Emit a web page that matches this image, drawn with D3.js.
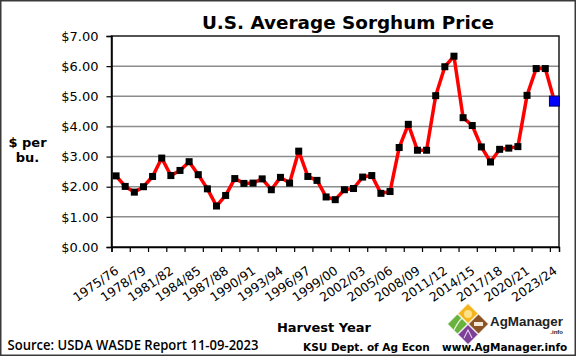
<!DOCTYPE html>
<html><head><meta charset="utf-8">
<script src="https://cdn.jsdelivr.net/npm/d3@7"></script>
<style>html,body{margin:0;padding:0;background:#fff;}svg{display:block;}</style>
</head><body>
<svg id="chart" width="576" height="356"></svg>
<script>
const categories = ["1975/76","1976/77","1977/78","1978/79","1979/80","1980/81","1981/82","1982/83","1983/84","1984/85",
"1985/86","1986/87","1987/88","1988/89","1989/90","1990/91","1991/92","1992/93","1993/94","1994/95",
"1995/96","1996/97","1997/98","1998/99","1999/00","2000/01","2001/02","2002/03","2003/04","2004/05",
"2005/06","2006/07","2007/08","2008/09","2009/10","2010/11","2011/12","2012/13","2013/14","2014/15",
"2015/16","2016/17","2017/18","2018/19","2019/20","2020/21","2021/22","2022/23","2023/24"];
const prices = [2.36,2.01,1.82,2.00,2.34,2.95,2.37,2.54,2.83,2.40,
1.93,1.36,1.71,2.27,2.11,2.12,2.26,1.90,2.31,2.12,
3.18,2.34,2.21,1.66,1.57,1.90,1.94,2.32,2.37,1.78,
1.84,3.30,4.07,3.21,3.21,5.02,5.98,6.33,4.29,4.03,
3.32,2.82,3.24,3.28,3.33,5.03,5.92,5.92,4.84];
const xTickLabels = ["1975/76","1978/79","1981/82","1984/85","1987/88","1990/91","1993/94","1996/97","1999/00",
"2002/03","2005/06","2008/09","2011/12","2014/15","2017/18","2020/21","2023/24"];
const yTicks = [0,1,2,3,4,5,6,7];

const svg = d3.select("#chart");
const L = 111.5, R = 559, T = 36, B = 247;

const x = d3.scaleBand().domain(categories).range([L, R]).padding(0);
const xIdx = d3.scaleLinear().domain([0, categories.length]).range([L, R]);
const y = d3.scaleLinear().domain([0, 7]).range([B, T]);

// outer frame
svg.append("rect").attr("x",0.75).attr("y",0.75).attr("width",574.5).attr("height",354.5)
  .attr("fill","#fff").attr("stroke","#3a3a3a").attr("stroke-width",1.5);

// gridlines
svg.append("g").selectAll("line").data(yTicks.filter(d=>d>0&&d<7)).join("line")
  .attr("x1",L).attr("x2",R).attr("y1",d=>y(d)).attr("y2",d=>y(d))
  .attr("stroke","#8c8c8c").attr("stroke-width",1.5);

// plot border
svg.append("rect").attr("x",L).attr("y",T).attr("width",R-L).attr("height",B-T)
  .attr("fill","none").attr("stroke","#1a1a1a").attr("stroke-width",1.5);

// y axis
const yAxis = svg.append("g").attr("transform",`translate(${L},0)`)
  .call(d3.axisLeft(y).tickValues(yTicks).tickSize(5).tickPadding(8).tickFormat(d=>"$"+d.toFixed(2)));
yAxis.select(".domain").attr("stroke","#000").attr("stroke-width",1.5);
yAxis.selectAll(".tick line").attr("stroke","#000").attr("stroke-width",1.2);
yAxis.selectAll(".tick text").attr("font-family","DejaVu Sans, Verdana, sans-serif").attr("font-size","13px").attr("fill","#000");

// x axis
const xAxis = svg.append("g").attr("transform",`translate(0,${B})`)
  .call(d3.axisBottom(xIdx).tickValues(d3.range(0, categories.length, 2)).tickSize(5).tickFormat(""));
xAxis.select(".domain").attr("stroke","#000").attr("stroke-width",1.5);
xAxis.selectAll(".tick line").attr("stroke","#000").attr("stroke-width",1.2);

svg.append("g").selectAll("text").data(xTickLabels).join("text")
  .attr("transform",d=>`translate(${x(d)+x.bandwidth()/2+1},${B+22}) rotate(-35)`)
  .attr("text-anchor","end").attr("dy","0.35em")
  .attr("font-family","DejaVu Sans, Verdana, sans-serif").attr("font-size","12.5px").attr("fill","#000")
  .text(d=>d);

// line
const line = d3.line().x((d,i)=>x(categories[i])+x.bandwidth()/2).y(d=>y(d));
svg.append("path").datum(prices).attr("d",line).attr("fill","none")
  .attr("stroke","#ff0000").attr("stroke-width",3.5).attr("stroke-linejoin","round");

// markers
const last = prices.length-1;
svg.append("g").selectAll("rect").data(prices.slice(0,last)).join("rect")
  .attr("x",(d,i)=>x(categories[i])+x.bandwidth()/2-3.5).attr("y",d=>y(d)-3.5)
  .attr("width",7).attr("height",7).attr("fill","#000");
svg.append("rect").attr("x",x(categories[last])+x.bandwidth()/2-5).attr("y",y(prices[last])-5)
  .attr("width",10).attr("height",10).attr("fill","#0000ff").attr("stroke","#000060").attr("stroke-width",1);

// title
svg.append("text").attr("x",348).attr("y",29).attr("text-anchor","middle")
  .attr("font-family","DejaVu Sans, Verdana, sans-serif").attr("font-weight","bold").attr("font-size","18.4px")
  .text("U.S. Average Sorghum Price");

// y label
const yl = svg.append("text").attr("font-family","DejaVu Sans, Verdana, sans-serif").attr("font-weight","bold")
  .attr("font-size","13px").attr("text-anchor","middle");
yl.append("tspan").attr("x",27.5).attr("y",146.5).text("$ per");
yl.append("tspan").attr("x",27.5).attr("y",161.5).text("bu.");

// x title
svg.append("text").attr("x",324).attr("y",332).attr("text-anchor","middle")
  .attr("font-family","DejaVu Sans, Verdana, sans-serif").attr("font-weight","bold").attr("font-size","13px")
  .text("Harvest Year");

// footer
svg.append("text").attr("x",7.5).attr("y",349.5)
  .attr("font-family","Open Sans, sans-serif").attr("font-weight","600").attr("font-size","14px")
  .attr("textLength",251).attr("lengthAdjust","spacingAndGlyphs")
  .text("Source: USDA WASDE Report 11-09-2023");
svg.append("text").attr("x",303).attr("y",350.5)
  .attr("font-family","DejaVu Sans, Verdana, sans-serif").attr("font-weight","bold").attr("font-size","10.5px")
  .text("KSU Dept. of Ag Econ");
svg.append("text").attr("x",442).attr("y",350.5)
  .attr("font-family","DejaVu Sans, Verdana, sans-serif").attr("font-weight","bold").attr("font-size","10.5px")
  .text("www.AgManager.info");

// logo
const logo = svg.append("g");
const dia = (cx,cy,r,fill)=>logo.append("path")
  .attr("d",`M${cx},${cy-r}L${cx+r},${cy}L${cx},${cy+r}L${cx-r},${cy}Z`).attr("fill",fill).attr("stroke","#fff").attr("stroke-width",0.8);
dia(468,313.5,10,"#f5b41c");
dia(457.5,324,10,"#6ab23e");
dia(478.5,324,10,"#8a5427");
dia(468,334.5,10,"#7d3f97");
logo.append("circle").attr("cx",468).attr("cy",314).attr("r",4).attr("fill","#fde28a");
logo.append("path").attr("d","M454,330 Q458,322 462,318").attr("stroke","#e8f5d8").attr("stroke-width",1.2).attr("fill","none");
logo.append("rect").attr("x",474).attr("y",322).attr("width",9).attr("height",4).attr("fill","#f4e7d6");
logo.append("path").attr("d","M464,338 L468,330 L472,338").attr("stroke","#e6d5f0").attr("stroke-width",1.1).attr("fill","none");
svg.append("text").attr("x",490).attr("y",326).attr("font-family","Liberation Sans, Arial, sans-serif")
  .attr("font-weight","bold").attr("font-size","13.4px").attr("fill","#222").text("AgManager");
svg.append("text").attr("x",563).attr("y",333.5).attr("text-anchor","end").attr("font-family","Liberation Sans, Arial, sans-serif")
  .attr("font-weight","bold").attr("font-size","6px").attr("fill","#222").text(".info");
</script>
</body></html>
